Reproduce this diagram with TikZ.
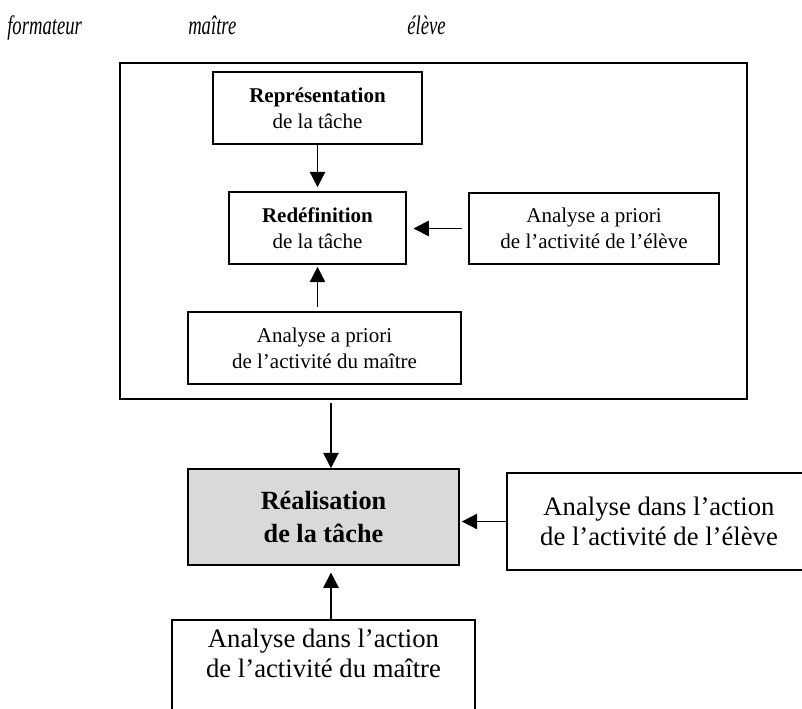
\documentclass[tikz,border=0pt]{standalone}
\usepackage{fontspec}
\setmainfont{Liberation Serif}
\usepackage{graphicx}
\usetikzlibrary{arrows.meta}
\definecolor{fillgray}{RGB}{217,217,217}
\tikzset{
  box/.style={draw, line width=1.25pt, inner sep=0pt, align=center},
  smalltext/.style={font=\fontsize{15.75pt}{19.5pt}\selectfont},
  bigtext/.style={font=\fontsize{20pt}{22.5pt}\selectfont},
  realtext/.style={font=\fontsize{19.7pt}{24.75pt}\selectfont\bfseries},
  toplabel/.style={anchor=base west, inner sep=0pt, font=\fontsize{20pt}{22pt}\selectfont\itshape},
  arr/.style={line width=1.25pt, -{Triangle[length=11.5pt,width=11.5pt]}}
}
\begin{document}
\begin{tikzpicture}[x=0.75pt,y=-0.75pt]
\useasboundingbox (0,0) rectangle (802,709);
\clip (0,0) rectangle (802,709);
% column labels
\node[toplabel] (lformateur) at (7,35) {\scalebox{0.7}[1]{formateur}};
\node[toplabel] (lmaitre) at (188,35) {\scalebox{0.7}[1]{maître}};
\node[toplabel] (leleve) at (407,35) {\scalebox{0.7}[1]{élève}};
% outer frame
\node[draw, line width=1.7pt, minimum width=627*0.75pt, minimum height=336*0.75pt, inner sep=0pt] (outer) at (433.5,231) {};
% inner boxes
\node[box, smalltext, minimum width=209*0.75pt, minimum height=72*0.75pt] (repr) at (317.5,108) {\textbf{Représentation}\\de la tâche};
\node[box, smalltext, minimum width=177*0.75pt, minimum height=72*0.75pt] (redef) at (317.5,228) {\textbf{Redéfinition}\\de la tâche};
\node[box, smalltext, minimum width=250*0.75pt, minimum height=71*0.75pt] (apeleve) at (594,228.5) {Analyse a priori\\de l’activité de l’élève};
\node[box, smalltext, minimum width=273*0.75pt, minimum height=72*0.75pt] (apmaitre) at (324.5,348) {Analyse a priori\\de l’activité du maître};
% lower part
\node[box, realtext, fill=fillgray, minimum width=271*0.75pt, minimum height=96*0.75pt] (real) at (323.5,517) {Réalisation\\de la tâche};
\node[box, bigtext, minimum width=304*0.75pt, minimum height=97*0.75pt] (daeleve) at (659,521.5) {Analyse dans l’action\\de l’activité de l’élève};
\node[box, minimum width=303*0.75pt, minimum height=120*0.75pt, anchor=north] (damaitre) at (323.5,619) {};
\node[bigtext, align=center, inner sep=0pt] (damaitretext) at (323.5,653) {Analyse dans l’action\\de l’activité du maître};
% connectors
\draw[arr, shorten >=3pt] (repr.south) -- (redef.north);
\draw[arr, shorten <=5pt, shorten >=5pt] (apeleve.west) -- (apeleve.west -| redef.east);
\draw[arr, shorten <=3pt, shorten >=1.5pt] (apmaitre.north -| redef.south) -- (redef.south);
\draw[arr, shorten <=2.5pt] ([xshift=5.6pt]real.north |- outer.south) -- ([xshift=5.6pt]real.north);
\draw[arr, shorten >=1.5pt] (daeleve.west) -- (daeleve.west -| real.east);
\draw[arr, shorten >=5pt] ([xshift=5.6pt]real.south |- damaitre.north) -- ([xshift=5.6pt]real.south);
\end{tikzpicture}
\end{document}
